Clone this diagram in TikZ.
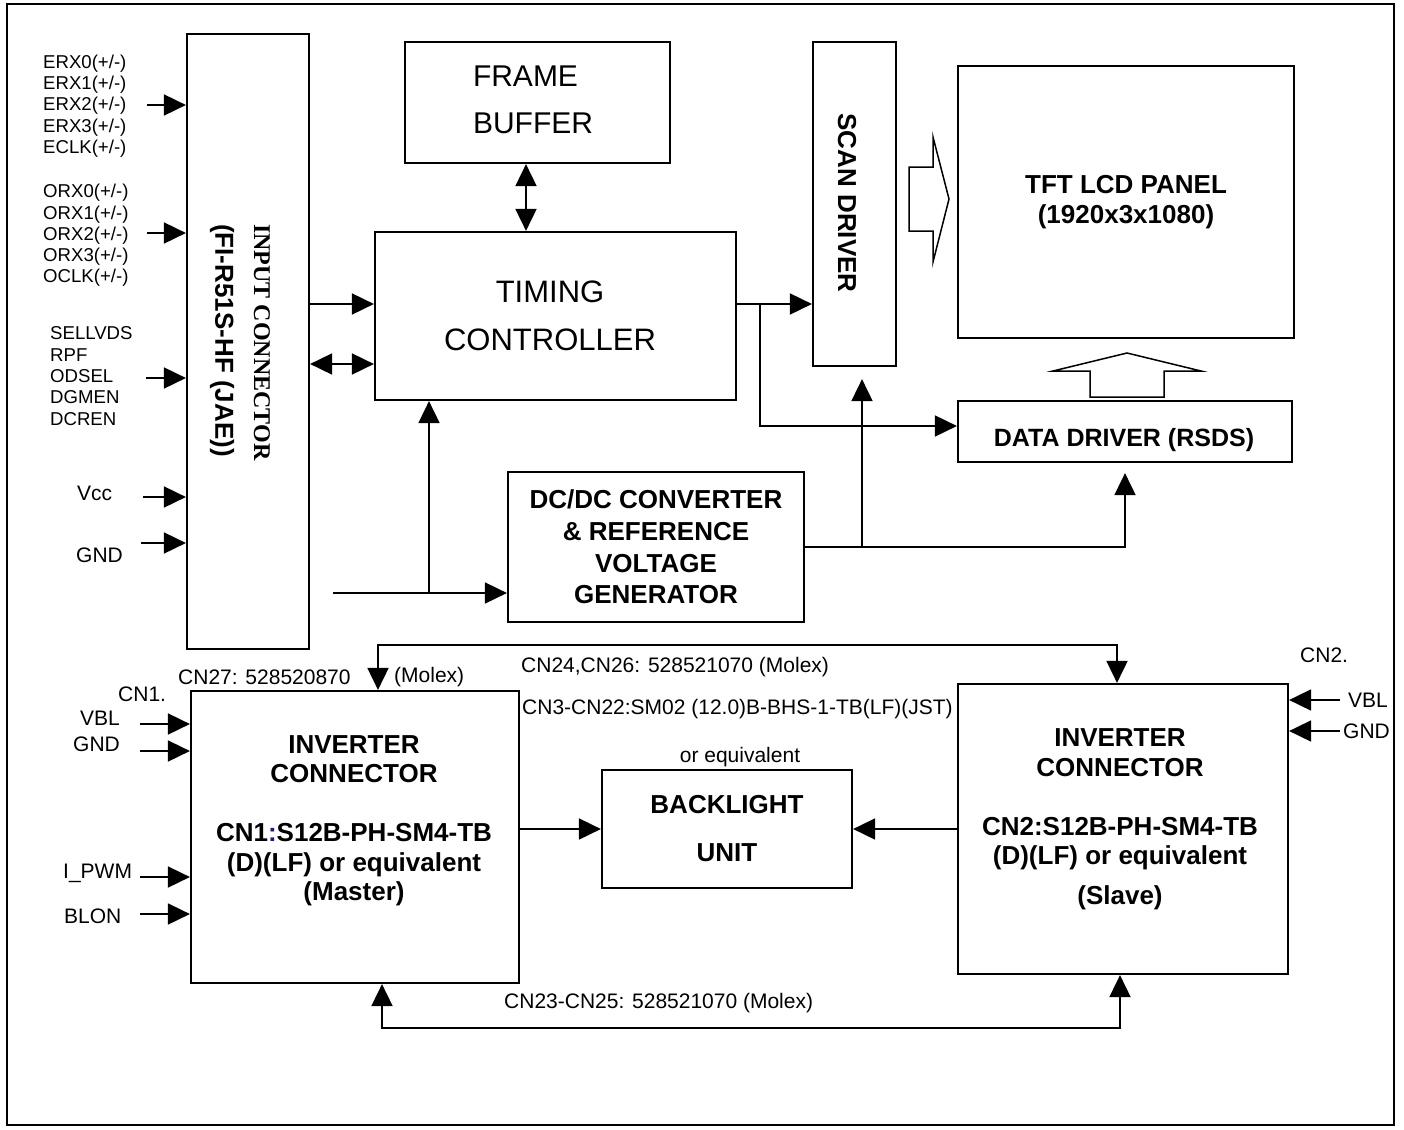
\documentclass[tikz,border=0pt]{standalone}
\usepackage{fontspec}
\setmainfont{Liberation Sans}
\newfontfamily\timesfam{Liberation Serif}
\usetikzlibrary{arrows.meta}
\definecolor{colonblue}{RGB}{25,25,140}
\begin{document}
\begin{tikzpicture}[x=1pt,y=-1pt,
    blk/.style={draw,line width=2.2pt,inner sep=0pt},
    lbl/.style={inner sep=0pt,anchor=west,font=\fontsize{21}{24}\selectfont},
    sig/.style={inner sep=0pt,anchor=west,align=left,font=\fontsize{18.6}{21.3}\selectfont},
    bold/.style={inner sep=0pt,align=center,font=\bfseries\fontsize{26}{29.5}\selectfont},
    arr/.style={line width=1.8pt,-{Triangle[length=22pt,width=21pt]}},
    barr/.style={line width=1.8pt,{Triangle[length=22pt,width=21pt]}-{Triangle[length=22pt,width=21pt]}},
    hol/.style={draw,line width=1.5pt,line join=miter}]
  \useasboundingbox (0,0) rectangle (1404,1129);
  \draw[line width=2pt] (7,4) rectangle (1394,1125);

  % blocks
  \node[blk,minimum width=122pt,minimum height=615pt] (inconn) at (248,341.5) {};
  \node[rotate=-90,anchor=west,inner sep=0pt,font=\timesfam\bfseries\fontsize{24}{28}\selectfont] (inlbl) at (262,224) {INPUT CONNECTOR};
  \node[rotate=-90,anchor=west,inner sep=0pt,font=\bfseries\fontsize{26}{30}\selectfont] (inpart) at (222,224) {(FI-R51S-HF (JAE))};
  \node[blk,minimum width=265pt,minimum height=121pt] (fbuf) at (537.5,102.5) {};
  \node[inner sep=0pt,align=left,font=\fontsize{30}{47}\selectfont] (fbuftxt) at (533,100) {FRAME\\BUFFER};
  \node[blk,minimum width=361pt,minimum height=168pt] (tcon) at (555.5,316) {};
  \node[inner sep=0pt,align=center,font=\fontsize{31}{48}\selectfont] (tcontxt) at (550,316) {TIMING\\CONTROLLER};
  \node[blk,minimum width=83pt,minimum height=324pt] (scan) at (854.5,204) {};
  \node[rotate=-90,inner sep=0pt,font=\bfseries\fontsize{26}{30}\selectfont] (scantxt) at (847,203) {SCAN DRIVER};
  \node[blk,minimum width=336pt,minimum height=272pt,align=center,font=\bfseries\fontsize{26}{30}\selectfont] (panel) at (1126,202) {TFT LCD PANEL\\(1920x3x1080)};
  \node[blk,minimum width=334pt,minimum height=61pt] (ddrv) at (1125,431.5) {};
  \node[inner sep=0pt,font=\bfseries\fontsize{25}{30}\selectfont] (ddrvtxt) at (1124,440) {DATA DRIVER (RSDS)};
  \node[blk,minimum width=296pt,minimum height=150pt,align=center,font=\bfseries\fontsize{26}{31.7}\selectfont] (dcdc) at (656,547) {DC/DC CONVERTER\\\& REFERENCE\\VOLTAGE\\GENERATOR};
  \node[blk,minimum width=250pt,minimum height=118pt,align=center,font=\bfseries\fontsize{26}{48}\selectfont] (blu) at (727,829) {BACKLIGHT\\UNIT};
  \node[blk,minimum width=328pt,minimum height=292pt] (invm) at (355,837) {};
  \node[bold] (invmtxt) at (354,820.5) {INVERTER\\CONNECTOR\\[29.5pt]CN1{\color{colonblue}:}S12B-PH-SM4-TB\\(D)(LF) or equivalent\\(Master)};
  \node[blk,minimum width=330pt,minimum height=290pt] (invs) at (1123,829) {};
  \node[bold] (invstxt) at (1120,819.5) {INVERTER\\CONNECTOR\\[29.5pt]CN2:S12B-PH-SM4-TB\\(D)(LF) or equivalent\\[10.5pt](Slave)};

  % input signals
  \node[sig] (erx) at (43,106) {ERX0(+/-)\\ERX1(+/-)\\ERX2(+/-)\\ERX3(+/-)\\ECLK(+/-)};
  \node[sig] (orx) at (43,235.5) {ORX0(+/-)\\ORX1(+/-)\\ORX2(+/-)\\ORX3(+/-)\\OCLK(+/-)};
  \node[sig] (sel) at (50,376) {SELLVDS\\RPF\\ODSEL\\DGMEN\\DCREN};
  \node[lbl] (vcc) at (77,493) {Vcc};
  \node[lbl] (gnd) at (76,555) {GND};
  \coordinate (erxS) at (147,105);
  \coordinate (orxS) at (147,233);
  \coordinate (selS) at (146,378);
  \coordinate (vccS) at (143,497);
  \coordinate (gndS) at (141,543);
  \foreach \s in {erxS,orxS,selS,vccS,gndS}
    \draw[arr] (\s) -- (\s -| inconn.west);

  % timing controller links
  \coordinate (lvA) at (0,304);
  \coordinate (lvB) at (0,364);
  \coordinate (lvD) at (0,426);
  \coordinate (fbx) at (526,0);
  \coordinate (brA) at (760,304);
  \coordinate (pwS) at (333,593);
  \coordinate (brB) at (429,593);
  \coordinate (brC) at (862,547);
  \draw[arr] (inconn.east |- lvA) -- (tcon.west |- lvA);
  \draw[barr] (inconn.east |- lvB) -- (tcon.west |- lvB);
  \draw[barr] (fbuf.south -| fbx) -- (tcon.north -| fbx);
  \draw[arr] (tcon.east |- lvA) -- (scan.west |- lvA);
  \draw[arr] (brA) |- (ddrv.west |- lvD);
  \draw[arr] (pwS) -- (dcdc.west |- pwS);
  \draw[arr] (brB) -- (brB |- tcon.south);
  \draw[arr,shorten >=10pt] (dcdc.east) -| (ddrv.south);
  \draw[arr,shorten >=12pt] (brC) -- (brC |- scan.south);

  % hollow arrows
  \draw[hol] (909,167) -- (933,167) -- (933,137) -- (949,199) -- (933,262) -- (933,231) -- (909,231) -- cycle;
  \draw[hol] (1090,397) -- (1090,371) -- (1053,371) -- (1127,353) -- (1201,371) -- (1164,371) -- (1164,397) -- cycle;

  % inverter side
  \node[lbl] (cn1) at (118,694) {CN1.};
  \node[lbl] (vblm) at (80,718) {VBL};
  \node[lbl] (gndm) at (73,744) {GND};
  \node[lbl] (pwm) at (63,873) {I\_PWM};
  \node[lbl] (blon) at (64,916) {BLON};
  \coordinate (vblmS) at (140,724);
  \coordinate (gndmS) at (140,751);
  \coordinate (pwmS) at (140,877);
  \coordinate (blonS) at (140,914);
  \foreach \s in {vblmS,gndmS,pwmS,blonS}
    \draw[arr] (\s) -- (\s -| invm.west);
  \node[lbl] (cn2) at (1300,655) {CN2.};
  \node[lbl] (vbls) at (1348,700) {VBL};
  \node[lbl] (gnds) at (1343,731) {GND};
  \coordinate (vblsS) at (1340,700);
  \coordinate (gndsS) at (1340,731);
  \foreach \s in {vblsS,gndsS}
    \draw[arr] (\s) -- (\s -| invs.east);

  \node[lbl] (cn27) at (178,677) {CN27: 528520870};
  \node[lbl] (molex) at (394,677) {(Molex)};
  \node[lbl] (cn24) at (521,667) {CN24,CN26: 528521070 (Molex)};
  \node[lbl] (cn3) at (522,709) {CN3-CN22:SM02 (12.0)B-BHS-1-TB(LF)(JST)};
  \node[lbl,anchor=center] (oreq) at (740,757) {or equivalent};
  \node[lbl] (cn23) at (504,1003) {CN23-CN25: 528521070 (Molex)};

  \draw[barr] ([xshift=23pt]invm.north) -- ++(0,-45) -| ([xshift=-6pt]invs.north);
  \draw[barr] ([xshift=27pt]invm.south) -- ++(0,44) -| ([xshift=-3pt]invs.south);
  \draw[arr] (invm.east |- blu.west) -- (blu.west);
  \draw[arr] (invs.west |- blu.east) -- (blu.east);
\end{tikzpicture}
\end{document}
